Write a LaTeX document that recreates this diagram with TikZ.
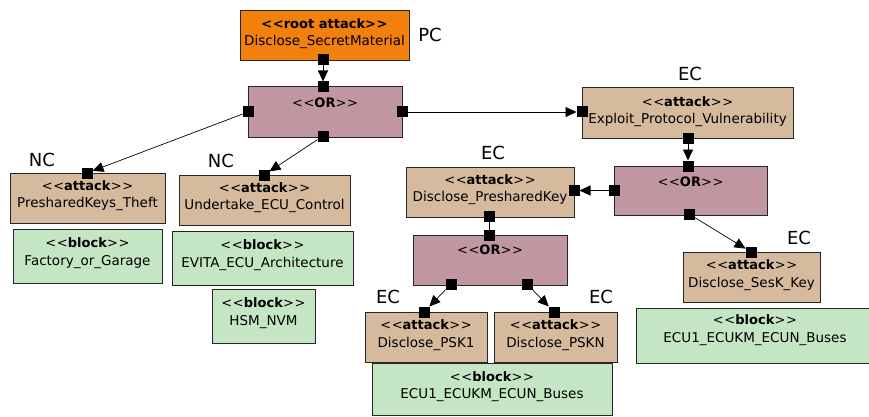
\documentclass[tikz,border=0pt]{standalone}
\usepackage{fontspec}
\setmainfont{DejaVu Sans}
\usetikzlibrary{arrows.meta}
\definecolor{rootc}{RGB}{242,128,12}
\definecolor{attackc}{RGB}{214,186,157}
\definecolor{orc}{RGB}{192,150,160}
\definecolor{blockc}{RGB}{197,230,197}
\newcommand\myL{<\kern0.6pt<}
\newcommand\myR{>\kern0.6pt>}
\begin{document}
\begin{tikzpicture}[x=1pt,y=-1pt,
  box/.style={draw=black!85, line width=1pt, anchor=north west, inner sep=0pt, outer sep=0pt},
  rootbox/.style={box, fill=rootc},
  attackbox/.style={box, fill=attackc},
  orbox/.style={box, fill=orc},
  blockbox/.style={box, fill=blockc},
  st/.style={font=\fontsize{13}{15}\selectfont, inner sep=0pt},
  nm/.style={font=\fontsize{13.5}{15}\selectfont, inner sep=0pt},
  lab/.style={font=\fontsize{18}{20}\selectfont, inner sep=0pt},
  port/.style={fill=black, minimum size=11pt, inner sep=0pt, outer sep=0pt},
  conn/.style={line width=0.7pt},
  arr/.style={conn, -{Triangle[length=11pt,width=10pt]}}
]
\useasboundingbox[fill=white] (0,0) rectangle (869,417);

% boxes
\node[rootbox, minimum width=169pt, minimum height=50pt] (root) at (240,11) {};
\node[orbox, minimum width=154pt, minimum height=50pt] (or1) at (248,87) {};
\node[attackbox, minimum width=155pt, minimum height=50pt] (pkt) at (10,173) {};
\node[attackbox, minimum width=171pt, minimum height=50pt] (uec) at (179,175) {};
\node[blockbox, minimum width=149pt, minimum height=54pt] (fog) at (13,229) {};
\node[blockbox, minimum width=181pt, minimum height=54pt] (evita) at (172,231) {};
\node[blockbox, minimum width=103pt, minimum height=54pt] (hsm) at (212,289) {};
\node[attackbox, minimum width=211pt, minimum height=50pt] (epv) at (582,88) {};
\node[orbox, minimum width=153pt, minimum height=49pt] (or2) at (614,166) {};
\node[attackbox, minimum width=168pt, minimum height=50pt] (dpk) at (406,167) {};
\node[orbox, minimum width=154pt, minimum height=50pt] (or3) at (413,235) {};
\node[attackbox, minimum width=122pt, minimum height=50pt] (psk1) at (365,312) {};
\node[attackbox, minimum width=123pt, minimum height=50pt] (pskn) at (494,312) {};
\node[blockbox, minimum width=240pt, minimum height=52pt] (ecub) at (372,363) {};
\node[attackbox, minimum width=137pt, minimum height=50pt] (sesk) at (683,252) {};
\node[blockbox, minimum width=236pt, minimum height=55pt] (ecur) at (636,308) {};

% texts
\node[st] (rootS) at (324.5,24) {\textbf{\myL root attack\myR}};
\node[nm] (rootN) at (324.5,42) {Disclose\_SecretMaterial};
\node[st] (or1S) at (325,103) {\myL\textbf{OR}\myR};
\node[st] (pktS) at (87.5,186) {\myL\textbf{attack}\myR};
\node[nm] (pktN) at (87.5,204) {PresharedKeys\_Theft};
\node[st] (uecS) at (264.5,188) {\myL\textbf{attack}\myR};
\node[nm] (uecN) at (264.5,206) {Undertake\_ECU\_Control};
\node[st] (fogS) at (87.5,243) {\myL\textbf{block}\myR};
\node[nm] (fogN) at (87.5,262) {Factory\_or\_Garage};
\node[st] (evitaS) at (262.5,245) {\myL\textbf{block}\myR};
\node[nm] (evitaN) at (262.5,264) {EVITA\_ECU\_Architecture};
\node[st] (hsmS) at (263.5,303) {\myL\textbf{block}\myR};
\node[nm] (hsmN) at (263.5,322) {HSM\_NVM};
\node[st] (epvS) at (687.5,102) {\myL\textbf{attack}\myR};
\node[nm] (epvN) at (687.5,120) {Exploit\_Protocol\_Vulnerability};
\node[st] (or2S) at (690.5,182) {\myL\textbf{OR}\myR};
\node[st] (dpkS) at (490,180) {\myL\textbf{attack}\myR};
\node[nm] (dpkN) at (490,198) {Disclose\_PresharedKey};
\node[st] (or3S) at (490,250) {\myL\textbf{OR}\myR};
\node[st] (psk1S) at (426,325) {\myL\textbf{attack}\myR};
\node[nm] (psk1N) at (426,344) {Disclose\_PSK1};
\node[st] (psknS) at (555.5,325) {\myL\textbf{attack}\myR};
\node[nm] (psknN) at (555.5,344) {Disclose\_PSKN};
\node[st] (ecubS) at (492,377) {\myL\textbf{block}\myR};
\node[nm] (ecubN) at (492,395) {ECU1\_ECUKM\_ECUN\_Buses};
\node[st] (seskS) at (751.5,265) {\myL\textbf{attack}\myR};
\node[nm] (seskN) at (751.5,284) {Disclose\_SesK\_Key};
\node[st] (ecurS) at (755,320) {\myL\textbf{block}\myR};
\node[nm] (ecurN) at (755,339) {ECU1\_ECUKM\_ECUN\_Buses};

% labels
\node[lab] (lPC) at (430,35) {PC};
\node[lab] (lNC1) at (42,160) {NC};
\node[lab] (lNC2) at (221,161) {NC};
\node[lab] (lEC1) at (690,74) {EC};
\node[lab] (lEC2) at (493,153) {EC};
\node[lab] (lEC3) at (388,297) {EC};
\node[lab] (lEC4) at (601,297) {EC};
\node[lab] (lEC5) at (799,238) {EC};

% ports
\node[port] (prB) at (323,60) {};
\node[port] (o1T) at (323,87) {};
\node[port] (o1L) at (248,112) {};
\node[port] (o1R) at (402,112) {};
\node[port] (o1B) at (323,136) {};
\node[port] (pktT) at (87,173) {};
\node[port] (uecT) at (264,175) {};
\node[port] (epvL) at (582,112) {};
\node[port] (epvB) at (688,138) {};
\node[port] (o2T) at (688,166) {};
\node[port] (o2L) at (614,190.5) {};
\node[port] (o2B) at (689,214) {};
\node[port] (dpkR) at (574,190.5) {};
\node[port] (dpkB) at (489,216) {};
\node[port] (o3T) at (489,235) {};
\node[port] (o3BL) at (451,284) {};
\node[port] (o3BR) at (527,284) {};
\node[port] (psk1T) at (424,312) {};
\node[port] (psknT) at (554,312) {};
\node[port] (seskT) at (751,252) {};

% connectors
\draw[arr] (prB) -- (o1T);
\draw[arr] (o1L) -- (pktT);
\draw[arr] (o1B) -- (uecT);
\draw[arr] (o1R) -- (epvL);
\draw[arr] (epvB) -- (o2T);
\draw[arr] (o2L) -- (dpkR);
\draw[arr] (o2B) -- (seskT);
\draw[conn] (dpkB) -- (o3T);
\draw[arr] (o3BL) -- (psk1T);
\draw[arr] (o3BR) -- (psknT);
\end{tikzpicture}
\end{document}
